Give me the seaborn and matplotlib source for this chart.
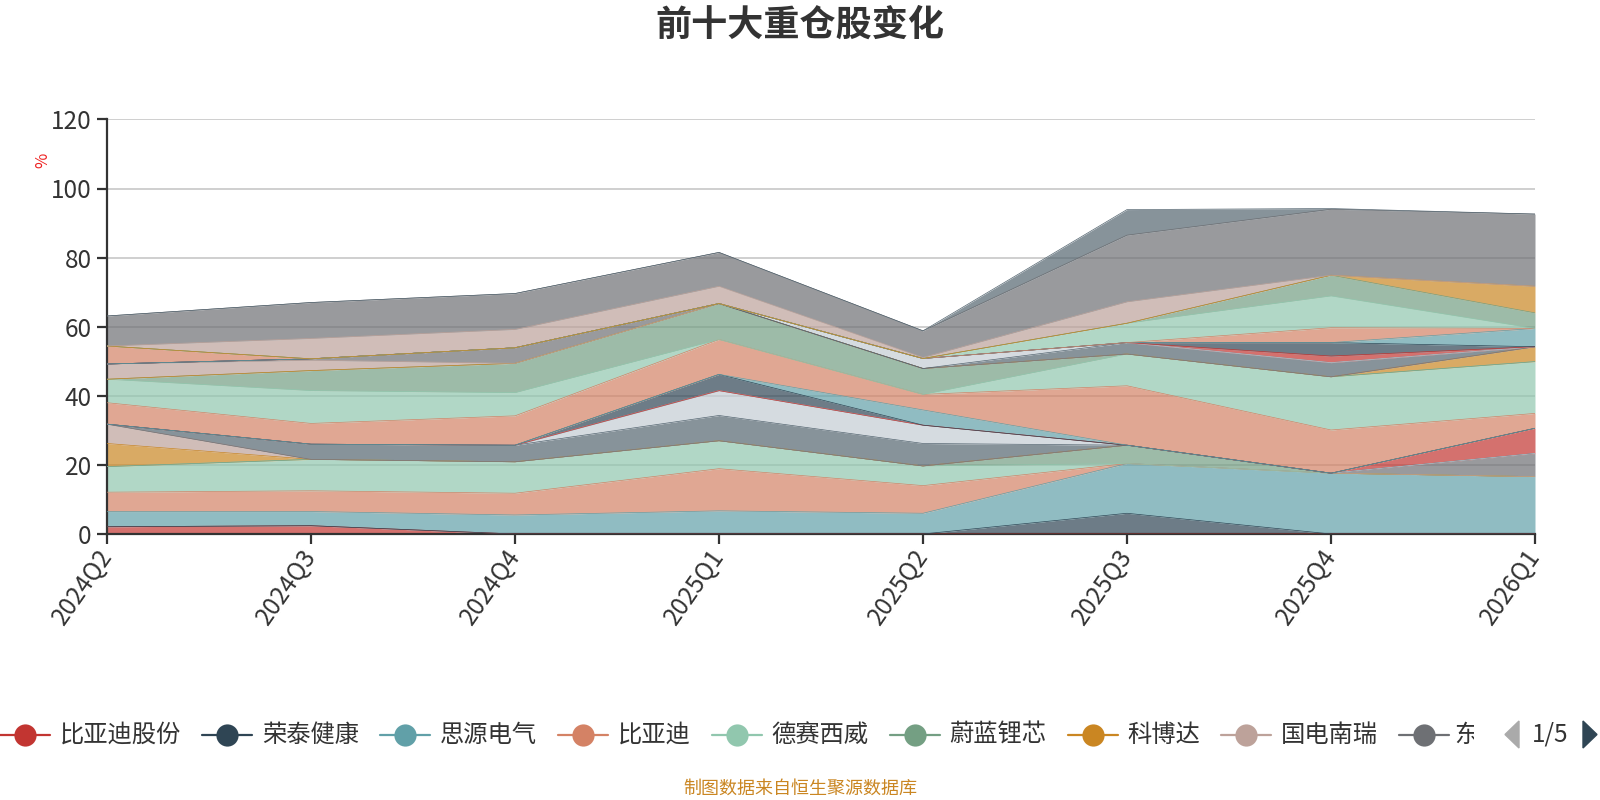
import numpy as np
import pandas as pd
import matplotlib
matplotlib.use("Agg")
import matplotlib.pyplot as plt
import seaborn as sns
from matplotlib.lines import Line2D
from matplotlib.patches import Polygon
from matplotlib.transforms import Bbox, TransformedBbox

# ---------------- data ----------------
quarters = ["2024Q2", "2024Q3", "2024Q4", "2025Q1", "2025Q2", "2025Q3", "2025Q4", "2026Q1"]

names = [
    "比亚迪股份", "荣泰健康", "思源电气", "比亚迪", "德赛西威", "蔚蓝锂芯", "科博达", "国电南瑞", "东方电缆",
    "股票10", "股票11", "股票12", "股票13", "股票14", "股票15", "股票16", "股票17", "股票18",
    "股票19", "股票20", "股票21", "股票22", "股票23", "股票24", "股票25", "股票26", "股票27",
    "股票28", "股票29", "股票30", "股票31", "股票32",
]

s00 = [2.1, 2.4, 0, 0, 0, 0, 0, 0]
s01 = [0, 0, 0, 0, 0, 6.0, 0, 0]
s02 = [4.4, 4.1, 5.5, 6.7, 6.0, 14.4, 17.6, 16.6]
s03 = [5.6, 6.0, 6.3, 12.2, 8.0, 0, 0, 0]
s04 = [7.4, 9.1, 9.1, 8.1, 5.7, 0, 0, 0]
s05 = [0, 0, 0, 0, 0, 5.3, 0, 0]
s06 = [6.7, 0, 0, 0, 0, 0, 0, 0]
s07 = [5.6, 0, 0, 0, 0, 0, 0, 0]
s08 = [0, 0, 0, 0, 0, 0, 0, 6.7]
s09 = [0, 4.4, 4.8, 7.3, 6.5, 0, 0, 0]
s10 = [0, 0, 0, 7.2, 5.3, 0, 0, 0]
s11 = [0, 0, 0, 0, 0, 0, 0, 7.3]
s12 = [0, 0, 0, 4.7, 0, 0, 0, 0]
s13 = [0, 0, 0, 0, 4.4, 0, 0, 0]
s14 = [6.2, 6.0, 8.5, 10.1, 4.5, 17.2, 12.5, 4.3]
s15 = [6.8, 9.5, 6.7, 0, 0, 9.2, 15.4, 15.0]
s16 = [0, 5.8, 8.5, 10.4, 7.5, 0, 0, 0]
s17 = [0, 0, 0, 0, 0, 0, 0, 4.3]
s18 = [4.4, 3.0, 0, 0, 0, 0, 0, 0]
s19 = [0, 0.4, 4.5, 0, 0, 0, 0, 0]
s20 = [0, 0, 0, 0, 0, 3.3, 4.1, 0]
s21 = [0, 0, 0, 0, 2.9, 0, 0, 0]
s22 = [0, 0, 0, 0, 0, 0, 1.9, 0]
s23 = [0, 0, 0, 0, 0, 0, 3.9, 0]
s24 = [0, 0, 0, 0, 0, 0, 0, 5.3]
s25 = [5.2, 0, 0, 0, 0, 0, 4.3, 0]
s26 = [0, 0, 0, 0, 0, 5.6, 9.2, 0]
s27 = [0, 0, 0, 0, 0, 0, 6.0, 4.5]
s28 = [0, 0, 0, 0, 0, 0, 0, 7.7]
s29 = [0, 5.9, 5.3, 5.0, 0.3, 6.2, 0, 0]
s30 = [8.7, 10.4, 10.4, 9.8, 7.7, 19.3, 19.1, 20.9]
s31 = [0, 0, 0, 0, 0, 7.4, 0.2, 0]
s32 = [36.9, 33.0, 30.4, 18.5, 41.2, 6.1, 5.8, 7.4]

series = [s00, s01, s02, s03, s04, s05, s06, s07, s08, s09, s10, s11, s12, s13, s14, s15,
          s16, s17, s18, s19, s20, s21, s22, s23, s24, s25, s26, s27, s28, s29, s30, s31, s32]

palette = ["#c23531", "#2f4554", "#61a0a8", "#d48265", "#91c7ae", "#749f83",
           "#ca8622", "#bda29a", "#6e7074", "#546570", "#c4ccd3"]

legend_count = 9

# ---------------- build table ----------------
rows = []
base = np.zeros(len(quarters))
for i, (nm, vals) in enumerate(zip(names, series)):
    v = np.array(vals, dtype=float)
    top = base + v
    for k, q in enumerate(quarters):
        rows.append({"stock": nm, "x": k, "quarter": q, "value": v[k],
                     "base": base[k], "cum": top[k]})
    base = top
df = pd.DataFrame(rows)
colors = [palette[i % len(palette)] for i in range(len(names))]

# ---------------- style ----------------
sns.set_theme(style="white")
plt.rcParams["font.family"] = ["Noto Sans CJK SC", "DejaVu Sans"]

W, H = 1600, 800
fig = plt.figure(figsize=(16, 8), dpi=100)
fx = lambda x: x / W
fy = lambda y: 1 - y / H

x0, x1 = 107, 1535
y0, y120 = 534, 119.4
ax = fig.add_axes([fx(x0), fy(y0), fx(x1) - fx(x0), fy(y120) - fy(y0)])

for i, nm in enumerate(names):
    d = df[df["stock"] == nm]
    ax.fill_between(d["x"], d["base"], d["cum"], color=colors[i], alpha=0.7,
                    linewidth=0, zorder=2)

sns.lineplot(data=df, x="x", y="cum", hue="stock", hue_order=names, palette=colors,
             legend=False, linewidth=0.5, estimator=None, sort=True, ax=ax, zorder=3)

ax.set_xlim(0, len(quarters) - 1)
ax.set_ylim(0, 120)
ax.set_xlabel("")
ax.set_ylabel("")
ax.set_yticks(np.arange(0, 121, 20))
ax.set_xticks(range(len(quarters)))
ax.set_xticklabels(quarters, rotation=55, ha="right", va="center",
                   rotation_mode="anchor")
ax.set_axisbelow(True)
ax.yaxis.grid(True, color="#cccccc", linewidth=1.3)
ax.xaxis.grid(False)
for s in ["top", "right"]:
    ax.spines[s].set_visible(False)
for s in ["left", "bottom"]:
    ax.spines[s].set_color("#333333")
    ax.spines[s].set_linewidth(1.6)
ax.tick_params(axis="y", which="both", left=True, length=7, width=1.6, color="#333333",
               labelsize=17.5, labelcolor="#333333", pad=4)
ax.tick_params(axis="x", which="both", bottom=True, length=7, width=1.6, color="#333333",
               labelsize=17.5, labelcolor="#333333", pad=6)
ax.set_facecolor("none")

# unit label
fig.text(fx(43), fy(160), "%", color="#ee2222", fontsize=12, rotation=90,
         ha="center", va="center")

# title
fig.text(0.5, fy(25), "前十大重仓股变化", ha="center", va="center", fontsize=26,
         fontweight="bold", color="#333333")

# legend (first page, last item cut off by the pager)
ly = 734.5
cx = 24.5
char_w = 24.5
for i in range(legend_count):
    c = palette[i % len(palette)]
    fig.add_artist(Line2D([fx(cx - 25), fx(cx + 25)], [fy(ly), fy(ly)], color=c,
                          linewidth=1.6, transform=fig.transFigure))
    fig.add_artist(Line2D([fx(cx)], [fy(ly)], marker="o", markersize=16, color=c,
                          markeredgewidth=0, transform=fig.transFigure))
    label = names[i]
    last = i == legend_count - 1
    tx = cx + (30 if last else 35)
    t = fig.text(fx(tx), fy(ly), label[0] if last else label, ha="left", va="center",
                 fontsize=17.5, color="#333333")
    if last:
        t.set_clip_box(TransformedBbox(Bbox([[fx(tx - 5), 0], [fx(1474), 1]]),
                                       fig.transFigure))
        t.set_clip_on(True)
    cx = cx + 80 + char_w * len(label)

# pager
fig.add_artist(Polygon([[fx(1519), fy(ly - 13.5)], [fx(1519), fy(ly + 13.5)],
                        [fx(1505), fy(ly)]], closed=True, color="#aaaaaa",
                       transform=fig.transFigure))
fig.text(fx(1550), fy(ly), "1/5", ha="center", va="center", fontsize=17.5, color="#333333")
fig.add_artist(Polygon([[fx(1583), fy(ly - 13.5)], [fx(1583), fy(ly + 13.5)],
                        [fx(1597), fy(ly)]], closed=True, color="#2f4554",
                       transform=fig.transFigure))

# source
fig.text(0.5, fy(789), "制图数据来自恒生聚源数据库", ha="center", va="center",
         fontsize=13, color="#ca8622")

fig.savefig("out.png", dpi=100)
